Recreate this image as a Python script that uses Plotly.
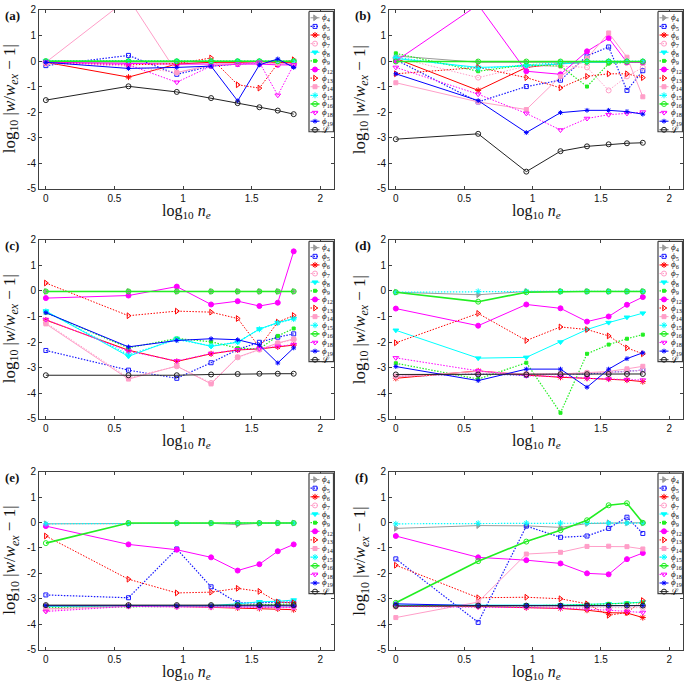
import numpy as np
import plotly.graph_objects as go

W, H = 685, 688

# number of elements n_e (x axis shows log10 n_e)
ne = [1, 4, 9, 16, 25, 36, 49, 64]

series_labels = ["<i>ϕ</i><sub>4</sub>", "<i>ϕ</i><sub>5</sub>", "<i>ϕ</i><sub>6</sub>", "<i>ϕ</i><sub>7</sub>",
                 "<i>ϕ</i><sub>8</sub>", "<i>ϕ</i><sub>9</sub>", "<i>ϕ</i><sub>12</sub>", "<i>ϕ</i><sub>13</sub>",
                 "<i>ϕ</i><sub>14</sub>", "<i>ϕ</i><sub>15</sub>", "<i>ϕ</i><sub>16</sub>", "<i>ϕ</i><sub>18</sub>",
                 "<i>ϕ</i><sub>19</sub>", "ℒ"]

x_ticks = [0, 0.5, 1, 1.5, 2]
x_ticktext = ["0", "0.5", "1", "1.5", "2"]
y_ticks = [-5, -4, -3, -2, -1, 0, 1, 2]
y_ticktext = ["-5", "-4", "-3", "-2", "-1", "0", "1", "2"]

# log10 |w/w_ex - 1| per panel, rows in series order (phi4 ... L)
values_a = [
    [-0.05, -0.05, -0.05, -0.03, -0.03, -0.03, -0.03, -0.03],
    [-0.18, 0.22, -0.52, -0.2, -0.12, -0.08, -0.02, -0.2],
    [-0.05, -0.63, -0.12, -0.05, -0.05, -0.05, -0.05, -0.05],
    [-0.1, -0.2, -0.45, -0.2, -0.12, -0.08, -0.1, -0.1],
    [0.0, -0.02, -0.02, -0.02, -0.02, -0.02, -0.02, -0.02],
    [0.02, 0.0, 0.0, 0.0, 0.0, 0.0, 0.0, 0.0],
    [-0.05, -0.1, -0.12, -0.12, -0.12, -0.12, -0.15, -0.15],
    [-0.05, -0.15, -0.1, 0.12, -0.93, -1.06, -0.1, 0.05],
    [-0.05, 2.45, -0.45, -0.15, -0.1, -0.05, -0.1, -0.1],
    [0.0, 0.0, 0.0, 0.0, 0.0, 0.0, 0.0, 0.0],
    [-0.01, -0.01, -0.01, -0.01, -0.01, -0.01, -0.01, -0.01],
    [-0.05, -0.15, -0.83, -0.2, -0.12, -0.05, -1.34, -0.15],
    [-0.05, -0.29, -0.25, -0.2, -1.56, -0.15, 0.08, -0.25],
    [-1.53, -0.99, -1.21, -1.45, -1.65, -1.81, -1.94, -2.08],
]
values_b = [
    [0.2, -0.05, -0.05, -0.05, -0.05, -0.05, -0.05, -0.05],
    [0.05, -1.6, -1.0, -0.75, 0.2, 0.55, -1.15, -0.38],
    [0.1, -1.15, -0.25, -0.1, -0.05, -0.05, -0.05, -0.05],
    [0.15, -0.65, -0.2, -0.2, -0.25, -1.15, -0.6, -0.25],
    [0.1, -0.25, -0.2, -0.1, -0.05, -0.05, -0.05, -0.05],
    [0.3, -0.4, -0.15, -0.2, -1.0, -0.1, -0.05, -0.05],
    [0.0, 2.2, -0.4, -0.52, 0.38, 0.9, -0.05, -0.05],
    [-0.5, -0.25, -0.65, -1.05, -0.6, -0.5, -0.5, -0.65],
    [-0.85, -1.6, -1.9, -0.6, 0.1, 1.1, 0.15, -1.4],
    [0.15, -0.3, -0.15, -0.05, 0.0, 0.0, 0.0, 0.0],
    [-0.02, -0.02, -0.02, -0.02, -0.02, -0.02, -0.02, -0.02],
    [-0.25, -1.3, -2.05, -2.7, -2.25, -2.1, -2.05, -2.0],
    [-0.5, -1.55, -2.8, -2.02, -1.93, -1.93, -1.98, -2.08],
    [-3.06, -2.85, -4.33, -3.53, -3.34, -3.26, -3.22, -3.2],
]
values_c = [
    [-0.02, -0.02, -0.02, -0.02, -0.02, -0.02, -0.02, -0.02],
    [-2.33, -3.1, -3.42, -2.81, -2.29, -2.01, -1.81, -1.68],
    [-1.14, -2.32, -2.76, -2.46, -2.31, -2.27, -2.19, -2.12],
    [-1.25, -3.4, -2.95, -3.6, -2.6, -2.3, -2.05, -1.9],
    [-0.79, -2.56, -1.86, -2.17, -2.01, -1.49, -1.24, -1.08],
    [-0.85, -2.23, -1.86, -1.99, -2.24, -2.27, -1.76, -1.47],
    [-0.28, -0.18, 0.17, -0.53, -0.4, -0.59, -0.46, 1.55],
    [0.31, -0.97, -0.79, -0.83, -1.08, -2.2, -1.22, -0.96],
    [-1.29, -3.45, -2.94, -3.64, -2.59, -2.29, -2.04, -1.88],
    [-0.8, -2.5, -1.9, -2.15, -2.0, -1.5, -1.25, -1.1],
    [-0.02, -0.02, -0.02, -0.02, -0.02, -0.02, -0.02, -0.02],
    [-1.12, -2.36, -2.74, -2.45, -2.3, -2.26, -2.17, -2.1],
    [-0.85, -2.19, -1.94, -1.87, -1.91, -2.12, -2.82, -2.23],
    [-3.3, -3.3, -3.3, -3.27, -3.25, -3.24, -3.24, -3.24],
]
values_d = [
    [-0.05, -0.15, -0.02, -0.02, -0.02, -0.02, -0.02, -0.02],
    [-3.35, -3.25, -3.3, -3.25, -3.25, -3.2, -3.15, -3.1],
    [-3.42, -3.13, -3.29, -3.38, -3.42, -3.45, -3.49, -3.55],
    [-3.35, -3.25, -3.25, -3.25, -3.2, -3.2, -3.15, -3.1],
    [-1.54, -2.63, -2.6, -2.0, -1.51, -1.24, -1.03, -0.87],
    [-2.83, -3.45, -2.81, -4.77, -2.46, -2.1, -1.87, -1.71],
    [-0.69, -1.36, -0.53, -0.68, -1.2, -1.0, -0.54, -0.24],
    [-2.03, -0.88, -1.94, -1.41, -1.51, -1.76, -2.23, -2.46],
    [-3.35, -3.15, -3.25, -3.25, -3.2, -3.15, -3.05, -2.95],
    [-0.05, -0.02, -0.02, -0.02, -0.02, -0.02, -0.02, -0.02],
    [-0.05, -0.42, -0.05, -0.02, -0.02, -0.02, -0.02, -0.02],
    [-2.62, -3.13, -3.32, -3.35, -3.42, -3.45, -3.47, -3.49],
    [-2.96, -3.51, -3.06, -3.06, -3.77, -3.06, -2.65, -2.42],
    [-3.27, -3.27, -3.27, -3.26, -3.26, -3.25, -3.25, -3.25],
]
values_e = [
    [-0.05, -0.03, -0.03, -0.03, -0.08, -0.03, -0.02, -0.02],
    [-2.85, -2.96, -1.04, -2.53, -3.16, -3.16, -3.13, -3.13],
    [-3.3, -3.27, -3.3, -3.33, -3.36, -3.38, -3.4, -3.43],
    [-3.45, -3.3, -3.3, -3.3, -3.3, -3.32, -3.32, -3.3],
    [-3.3, -3.28, -3.28, -3.27, -3.2, -3.12, -3.1, -3.05],
    [-3.35, -3.3, -3.3, -3.28, -3.25, -3.22, -3.2, -3.2],
    [-0.14, -0.86, -1.07, -1.37, -1.89, -1.64, -1.13, -0.86],
    [-0.53, -2.23, -2.77, -2.74, -2.59, -2.71, -3.13, -3.16],
    [-3.4, -3.3, -3.32, -3.32, -3.33, -3.33, -3.35, -3.35],
    [-0.05, -0.03, -0.02, -0.02, -0.02, -0.02, -0.02, -0.02],
    [-0.81, -0.02, -0.02, -0.02, -0.02, -0.02, -0.02, -0.02],
    [-3.5, -3.3, -3.32, -3.33, -3.34, -3.35, -3.35, -3.35],
    [-3.27, -3.28, -3.28, -3.28, -3.28, -3.28, -3.28, -3.28],
    [-3.25, -3.25, -3.25, -3.25, -3.25, -3.25, -3.25, -3.25],
]
values_f = [
    [-0.23, -0.12, -0.13, -0.19, -0.04, -0.01, -0.01, -0.01],
    [-1.43, -3.93, -0.14, -0.58, -0.53, -0.23, 0.21, -0.43],
    [-3.3, -3.3, -3.35, -3.38, -3.45, -3.55, -3.56, -3.74],
    [-3.3, -3.3, -3.32, -3.33, -3.35, -3.35, -3.35, -3.35],
    [-3.25, -3.25, -3.25, -3.25, -3.22, -3.2, -3.17, -3.13],
    [-3.3, -3.28, -3.28, -3.26, -3.23, -3.2, -3.18, -3.15],
    [-0.53, -1.37, -1.48, -1.61, -2.0, -2.04, -1.44, -1.2],
    [-1.68, -2.96, -2.94, -3.0, -3.2, -3.65, -3.54, -3.07],
    [-3.74, -3.13, -1.24, -1.17, -0.94, -0.93, -0.95, -1.04],
    [-0.05, -0.03, -0.02, -0.02, -0.02, -0.02, -0.02, -0.02],
    [-3.16, -1.52, -0.75, -0.3, 0.09, 0.68, 0.76, -0.01],
    [-3.3, -3.32, -3.35, -3.37, -3.4, -3.45, -3.5, -3.54],
    [-3.2, -3.27, -3.27, -3.27, -3.27, -3.27, -3.27, -3.27],
    [-3.28, -3.27, -3.27, -3.27, -3.27, -3.27, -3.27, -3.27],
]

# ---------------- styles ----------------
PINK = "#ff9ec8"
GREEN = "#22ee22"
DOT = "1.5px,1.5px"
styles = [  # color, dash, symbol, size, line width
    ("#9a9a9a", "solid", "triangle-right", 5, 1),
    ("#1a1aff", DOT, "square-open", 4, 1.2),
    ("#ff0000", "solid", "asterisk-open", 5, 1),
    (PINK, DOT, "circle-open", 5, 1),
    ("#00ffff", "solid", "triangle-down", 5, 1),
    (GREEN, DOT, "square", 3, 1.2),
    ("#ff00ff", "solid", "circle", 5, 1),
    ("#ff0000", DOT, "triangle-right-open", 5, 1),
    (PINK, "solid", "square", 4, 1),
    ("#00ffff", DOT, "asterisk-open", 5, 1.2),
    (GREEN, "solid", "circle-open", 5, 1.6),
    ("#ff00ff", DOT, "triangle-down-open", 5, 1),
    ("#0000ff", "solid", "asterisk-open", 4, 1),
    ("#222222", "solid", "circle-open", 5, 1),
]

panels = [  # label, left, right, top, bottom (pixels), values
    ("(a)", 39, 334, 4, 186, values_a),
    ("(b)", 389, 683, 4, 186, values_b),
    ("(c)", 39, 334, 238, 420, values_c),
    ("(d)", 389, 683, 238, 420, values_d),
    ("(e)", 39, 334, 474, 655, values_e),
    ("(f)", 389, 683, 474, 655, values_f),
]

x = np.log10(ne)
fig = go.Figure()
AX = "#404040"
annotations = []
SERIF = "Liberation Serif, Times New Roman, serif"
SANS = "Liberation Sans, Arial, sans-serif"

for k, (lab, l, r, t, b, vals) in enumerate(panels):
    n = k + 1
    xa = "x" if n == 1 else f"x{n}"
    ya = "y" if n == 1 else f"y{n}"
    for i, yv in enumerate(vals):
        col, dash, sym, sz, lw = styles[i]
        fig.add_trace(go.Scatter(
            x=x, y=yv, xaxis=xa, yaxis=ya, mode="lines+markers", showlegend=False,
            line=dict(color=col, dash=dash, width=lw),
            marker=dict(symbol=sym, size=sz, color=col, line=dict(color=col, width=1)),
            hoverinfo="skip"))
    axis_common = dict(showline=True, mirror="ticks", linecolor=AX, linewidth=1,
                       ticks="inside", ticklen=3, tickcolor=AX, showgrid=False,
                       zeroline=False, tickfont=dict(family=SANS, size=10, color="#111"),
                       fixedrange=True)
    fig.layout[f"xaxis{'' if n == 1 else n}"] = dict(
        domain=[l / W, r / W], range=[-0.05, 2.1], anchor=ya,
        tickvals=x_ticks, ticktext=x_ticktext, **axis_common)
    fig.layout[f"yaxis{'' if n == 1 else n}"] = dict(
        domain=[1 - b / H, 1 - t / H], range=[-5, 2], anchor=xa,
        tickvals=y_ticks, ticktext=y_ticktext, **axis_common)
    # panel label
    annotations.append(dict(text=f"<b>{lab}</b>", x=(l - 36) / W, y=1 - (t + 6) / H,
                            xref="paper", yref="paper", xanchor="left", yanchor="middle",
                            showarrow=False, font=dict(family=SERIF, size=13, color="#111")))
    # axis titles
    annotations.append(dict(text="log<sub>10</sub> |<i>w</i>/<i>w</i><sub><i>ex</i></sub> − 1|",
                            x=(l - 28) / W, y=1 - ((t + b) / 2) / H, xref="paper", yref="paper",
                            xanchor="center", yanchor="middle", textangle=-90, showarrow=False,
                            font=dict(family=SERIF, size=17, color="#111")))
    annotations.append(dict(text="log<sub>10</sub> <i>n</i><sub><i>e</i></sub>",
                            x=((l + r) / 2) / W, y=1 - (b + 23) / H, xref="paper", yref="paper",
                            xanchor="center", yanchor="middle", showarrow=False,
                            font=dict(family=SERIF, size=16, color="#111")))

# ---------------- legends drawn on a transparent pixel overlay axis ----------------
fig.layout["xaxis7"] = dict(domain=[0, 1], range=[0, W], visible=False, anchor="y7", fixedrange=True)
fig.layout["yaxis7"] = dict(domain=[0, 1], range=[H, 0], visible=False, anchor="x7", fixedrange=True)
for k, (lab, l, r, t, b, vals) in enumerate(panels):
    bx0, bx1 = r - 25, r - 0.5
    by0, by1 = t + 1.5, t + 124
    fig.add_trace(go.Scatter(x=[bx0, bx1, bx1, bx0, bx0], y=[by0, by0, by1, by1, by0],
                             xaxis="x7", yaxis="y7", mode="lines", fill="toself",
                             fillcolor="white", line=dict(color=AX, width=1.2),
                             showlegend=False, hoverinfo="skip"))
    for i, name in enumerate(series_labels):
        col, dash, sym, sz, lw = styles[i]
        yy = by0 + 6.5 + i * 8.77
        fig.add_trace(go.Scatter(x=[bx0 + 1.5, bx0 + 10.5], y=[yy, yy], xaxis="x7", yaxis="y7",
                                 mode="lines", line=dict(color=col, dash=dash, width=lw),
                                 showlegend=False, hoverinfo="skip"))
        fig.add_trace(go.Scatter(x=[bx0 + 6], y=[yy], xaxis="x7", yaxis="y7", mode="markers",
                                 marker=dict(symbol=sym, size=sz, color=col,
                                             line=dict(color=col, width=1)),
                                 showlegend=False, hoverinfo="skip"))
        annotations.append(dict(text=name, x=(bx0 + 11) / W, y=1 - yy / H, xref="paper",
                                yref="paper", xanchor="left", yanchor="middle", showarrow=False,
                                font=dict(family=SERIF, size=9, color="#111")))

fig.update_layout(width=W, height=H, margin=dict(l=0, r=0, t=0, b=0),
                  paper_bgcolor="white", plot_bgcolor="rgba(0,0,0,0)", showlegend=False,
                  annotations=annotations)
fig.write_html("out.html", config={"displayModeBar": False, "staticPlot": True},
               post_script="document.body.style.margin='0';document.body.style.padding='0';")
